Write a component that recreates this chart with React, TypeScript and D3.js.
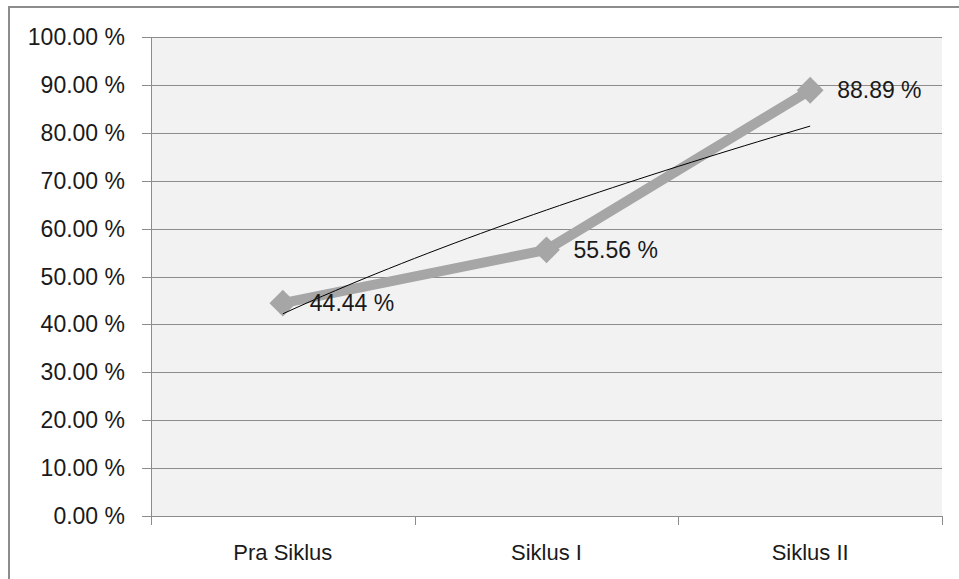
import { useEffect, useRef } from "react";
import * as d3 from "d3";

// Chart data
const categories = ["Pra Siklus", "Siklus I", "Siklus II"];
const values = [44.44, 55.56, 88.89];
const yTicks = [0, 10, 20, 30, 40, 50, 60, 70, 80, 90, 100];

const W = 959;
const H = 579;
const FONT = "'Liberation Sans', Arial, sans-serif";

// power trendline y = a * x^b (x = 1..n), least squares on logs
function powerFit(ys: number[]) {
  const xs = ys.map((_, i) => Math.log(i + 1));
  const ly = ys.map((v) => Math.log(v));
  const mx = d3.mean(xs)!;
  const my = d3.mean(ly)!;
  const b =
    d3.sum(xs.map((x, i) => (x - mx) * (ly[i] - my))) /
    d3.sum(xs.map((x) => (x - mx) ** 2));
  const a = Math.exp(my - b * mx);
  return (x: number) => a * Math.pow(x, b);
}

export default function App() {
  const svgRef = useRef<SVGSVGElement>(null);

  useEffect(() => {
    if (!svgRef.current) return;
    const svg = d3.select(svgRef.current);
    svg.selectAll("*").remove();

    const plot = { left: 151, top: 37, right: 942, bottom: 516 };

    // outer chart border
    svg
      .append("rect")
      .attr("x", 9)
      .attr("y", 7)
      .attr("width", W + 20)
      .attr("height", H + 20)
      .attr("fill", "#fff")
      .attr("stroke", "#8c8c8c")
      .attr("stroke-width", 2);

    const x = d3
      .scaleBand<string>()
      .domain(categories)
      .range([plot.left, plot.right])
      .paddingInner(0)
      .paddingOuter(0);
    const y = d3.scaleLinear().domain([0, 100]).range([plot.bottom, plot.top]);

    // plot area background
    svg
      .append("rect")
      .attr("x", plot.left)
      .attr("y", plot.top)
      .attr("width", plot.right - plot.left)
      .attr("height", plot.bottom - plot.top)
      .attr("fill", "#f2f2f2");

    // gridlines + y ticks
    svg
      .append("g")
      .selectAll("line")
      .data(yTicks)
      .enter()
      .append("line")
      .attr("x1", plot.left - 9)
      .attr("x2", plot.right)
      .attr("y1", (d) => Math.round(y(d)) + 0.5)
      .attr("y2", (d) => Math.round(y(d)) + 0.5)
      .attr("stroke", "#8c8c8c")
      .attr("stroke-width", 1);

    svg
      .append("g")
      .selectAll("text")
      .data(yTicks)
      .enter()
      .append("text")
      .attr("x", 125)
      .attr("y", (d) => y(d))
      .attr("dy", "0.35em")
      .attr("text-anchor", "end")
      .attr("font-family", FONT)
      .attr("font-size", 23)
      .attr("fill", "#1a1a1a")
      .text((d) => d.toFixed(2) + " %");

    // y axis line
    svg
      .append("line")
      .attr("x1", plot.left + 0.5)
      .attr("x2", plot.left + 0.5)
      .attr("y1", plot.top)
      .attr("y2", plot.bottom + 9)
      .attr("stroke", "#8c8c8c");

    // x axis ticks (category boundaries)
    const bounds = categories.map((c) => x(c)!).concat([plot.right]);
    svg
      .append("g")
      .selectAll("line")
      .data(bounds)
      .enter()
      .append("line")
      .attr("x1", (d) => Math.round(d) + 0.5)
      .attr("x2", (d) => Math.round(d) + 0.5)
      .attr("y1", plot.bottom)
      .attr("y2", plot.bottom + 9)
      .attr("stroke", "#8c8c8c");

    svg
      .append("g")
      .selectAll("text")
      .data(categories)
      .enter()
      .append("text")
      .attr("x", (d) => x(d)! + x.bandwidth() / 2)
      .attr("y", 560)
      .attr("text-anchor", "middle")
      .attr("font-family", FONT)
      .attr("font-size", 22)
      .attr("fill", "#1a1a1a")
      .text((d) => d);

    const cx = (i: number) => x(categories[i])! + x.bandwidth() / 2;

    // data line
    const line = d3
      .line<number>()
      .x((_, i) => cx(i))
      .y((d) => y(d));
    svg
      .append("path")
      .datum(values)
      .attr("d", line)
      .attr("fill", "none")
      .attr("stroke", "#a6a6a6")
      .attr("stroke-width", 10)
      .attr("stroke-linejoin", "round");

    // markers
    svg
      .append("g")
      .selectAll("path")
      .data(values)
      .enter()
      .append("path")
      .attr("d", d3.symbol(d3.symbolSquare, 360)())
      .attr(
        "transform",
        (d, i) => `translate(${cx(i)},${y(d)}) rotate(45)`
      )
      .attr("fill", "#a6a6a6");

    // power trendline
    const fit = powerFit(values);
    const xs = d3.range(1, values.length + 0.001, 0.05);
    const trendX = d3.scaleLinear().domain([1, values.length]).range([cx(0), cx(values.length - 1)]);
    svg
      .append("path")
      .datum(xs)
      .attr(
        "d",
        d3
          .line<number>()
          .x((t) => trendX(t))
          .y((t) => y(fit(t)))
      )
      .attr("fill", "none")
      .attr("stroke", "#000")
      .attr("stroke-width", 1);

    // data labels
    svg
      .append("g")
      .selectAll("text")
      .data(values)
      .enter()
      .append("text")
      .attr("x", (_, i) => cx(i) + 27)
      .attr("y", (d) => y(d))
      .attr("dy", "0.35em")
      .attr("font-family", FONT)
      .attr("font-size", 23)
      .attr("fill", "#1a1a1a")
      .text((d) => d.toFixed(2) + " %");
  }, []);

  return (
    <svg
      ref={svgRef}
      width={W}
      height={H}
      style={{ position: "absolute", left: 0, top: 0 }}
    />
  );
}
